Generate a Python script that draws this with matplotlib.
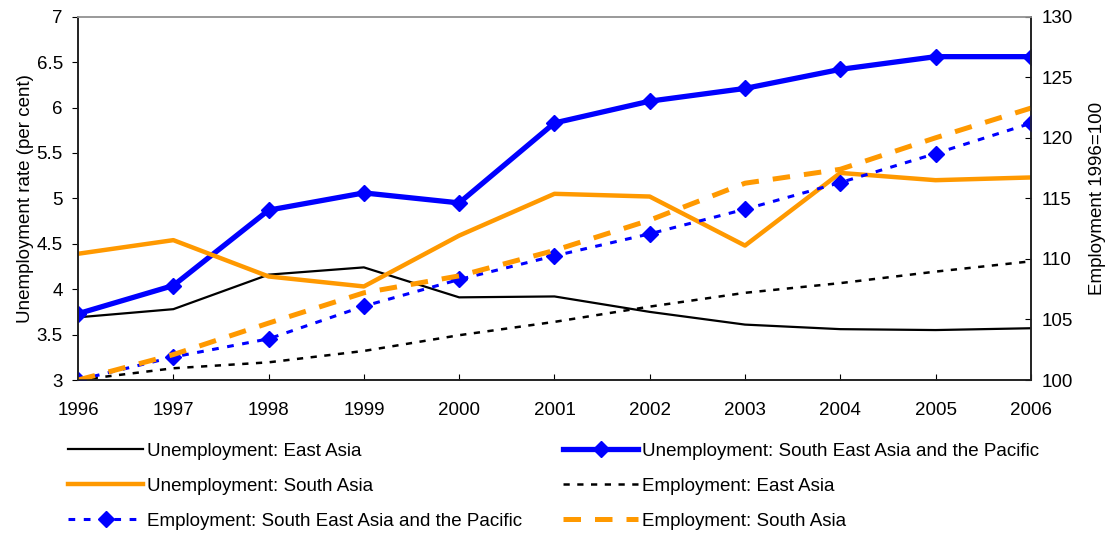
import matplotlib
matplotlib.use("Agg")
import matplotlib.pyplot as plt

plt.rcParams["font.family"] = ["Liberation Sans", "DejaVu Sans"]

years = [1996, 1997, 1998, 1999, 2000, 2001, 2002, 2003, 2004, 2005, 2006]

# unemployment rate, per cent (left axis)
unemp_east = [3.69, 3.78, 4.16, 4.24, 3.91, 3.92, 3.75, 3.61, 3.56, 3.55, 3.57]
unemp_sea = [3.73, 4.04, 4.87, 5.06, 4.95, 5.83, 6.07, 6.21, 6.42, 6.56, 6.56]
unemp_south = [4.39, 4.54, 4.14, 4.03, 4.59, 5.05, 5.02, 4.48, 5.28, 5.20, 5.23]

# employment index, 1996=100 (right axis)
emp_east = [100.0, 100.97, 101.46, 102.4, 103.7, 104.8, 106.06, 107.2, 108.0, 108.95, 109.8]
emp_sea = [100.0, 101.9, 103.4, 106.1, 108.3, 110.25, 112.07, 114.1, 116.3, 118.7, 121.2]
emp_south = [100.0, 102.1, 104.7, 107.2, 108.6, 110.7, 113.2, 116.25, 117.4, 120.0, 122.45]

blue = "#0000FF"
orange = "#FF9900"
fs = 13.5

fig = plt.figure(figsize=(11.12, 5.35), dpi=100)
ax = fig.add_axes([0.0702, 0.2897, 0.8568, 0.6791])
ax2 = ax.twinx()

l1, = ax.plot(years, unemp_east, color="black", lw=1.6,
              label="Unemployment: East Asia")
l2, = ax.plot(years, unemp_sea, color=blue, lw=3.8, marker="D", ms=8,
              label="Unemployment: South East Asia and the Pacific")
l3, = ax.plot(years, unemp_south, color=orange, lw=3.2,
              label="Unemployment: South Asia")

l4, = ax2.plot(years, emp_east, color="black", lw=1.8, ls=(0, (2.5, 3)),
               label="Employment: East Asia")
l5, = ax2.plot(years, emp_sea, color=blue, lw=2.2, ls=(0, (2.2, 2.8)),
               marker="D", ms=8, label="Employment: South East Asia and the Pacific")
l6, = ax2.plot(years, emp_south, color=orange, lw=3.6, ls=(0, (3.5, 2.8)),
               label="Employment: South Asia")

ax.set_xlim(1996, 2006)
ax.set_ylim(3, 7)
ax2.set_ylim(100, 130)
ax.set_xticks(years)
ax.set_yticks([3, 3.5, 4, 4.5, 5, 5.5, 6, 6.5, 7])
ax.set_yticklabels(["3", "3.5", "4", "4.5", "5", "5.5", "6", "6.5", "7"])
ax2.set_yticks(range(100, 131, 5))

ax.tick_params(axis="x", direction="in", length=4, labelsize=fs, pad=16)
ax.tick_params(axis="y", direction="out", length=4, labelsize=fs, pad=7)
ax2.tick_params(axis="y", direction="in", length=4, labelsize=fs, pad=8)

ax.set_ylabel("Unemployment rate (per cent)", fontsize=fs, labelpad=2)
ax2.set_ylabel("Employment 1996=100", fontsize=fs, labelpad=11)

for a in (ax, ax2):
    a.spines["top"].set_color("#999999")
    for s in ("top", "left", "right", "bottom"):
        a.spines[s].set_linewidth(1.2)
    for s in ("left", "right", "bottom"):
        a.spines[s].set_color("#222222")

handles = [l1, l3, l5, l2, l4, l6]
fig.legend(handles=handles, labels=[h.get_label() for h in handles],
           ncol=2, loc="lower left", bbox_to_anchor=(0.046, -0.022),
           frameon=False, fontsize=fs, handlelength=4.0, handletextpad=0.2,
           columnspacing=2.2, labelspacing=0.95)

fig.savefig("out.png", dpi=100)
